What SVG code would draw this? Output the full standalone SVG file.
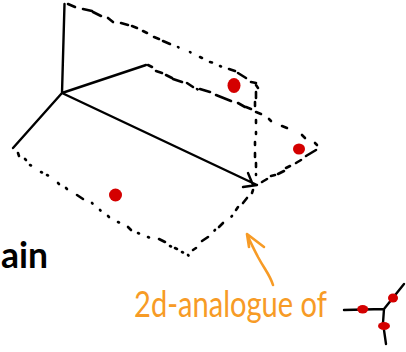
<svg xmlns="http://www.w3.org/2000/svg" width="406" height="352" viewBox="0 0 406 352">
<style>
.s{fill:none;stroke:#000;stroke-width:2.4;stroke-linecap:round;stroke-linejoin:round}
.d{fill:none;stroke:#000;stroke-width:2.6;stroke-linecap:round;stroke-linejoin:round}
.o{fill:none;stroke:#f79b26;stroke-width:2.600;stroke-linecap:round;stroke-linejoin:round}
.r{fill:#d40000}
.t{font-family:"Lato",sans-serif}
</style>
<rect width="406" height="352" fill="#fff"/>
<g id="connectors">
<path class="s" d="M64.500 4L62 93M62 93L146 65M62 93L13 148M62 93L257 185M248 173L253 185M243 187L257 185"/>
<path class="d" d="M68 4L75 7M83 9L92 11M93 12L101 16M108 18L113 22M121 23L128 25M132 26L137 28M143 31L147 33M154 37L159 39M163 41L170 44M178 47L178.500 47.300M190 52L190.500 52.300M200 57L202 58M210 62L212 62.500M220 66L221 66.500M229 69L235 71M238 73L246 78M251 82L256 83M256 85L258 88M256 92L256 98M255 102L255 106M256 120L256 123M256 132L256 134M255 142L255 145M255 153L255 157M256 163L256 167M256 174L256 175"/>
<path class="d" d="M148 65L152 67M156 71L162 73M166 75L172 78M173 79L182 82M187 83L193 87M197 89L197.500 89.300M200 89L210 92M216 95L231 101M238 103L245 107M246 107L251 109"/>
<path class="d" d="M256 112L261 114M269 119L271 121M282 126L287 128M302 135L305 138M315 143L317 145M316 150L306 156M301 160L296 163M290 166L286 168M284 171L278 174M275 175L271 176M267 179L262 182M253 190L252 193M247 198L243 203M238 207L236 210M232 216L231.500 216.500M223 223L219 227M215 230L214.500 230.500M208 237L202 241M196 248L193 250"/>
<path class="d" d="M18 153L19 156M25 159L26 160M30 165L31 165.500M41 172L42 172.500M47 175L48 175.500M58 183L59 184M66 188L67 189M77 195L83 199M92 203L92.500 203.500M100 210L100.500 210.500M108 216L109 217M118 222L119 222.500M128 227L131 230M138 233L139 233.500M148 237L149 237.500M159 239L165 242M170 246L171 246.500M175 248L177 249M182 252L183 252.500M188 255L188.500 255.500"/>
<path class="o" d="M273 285C270 275 265 270 258 257C254 249 250 242 247 234M247 234L249 247M247 234L264 247"/>
</g>
<g id="plane-dots">
<ellipse class="r" cx="234" cy="85.500" rx="6.500" ry="7.500"/>
<ellipse class="r" cx="299" cy="149" rx="6" ry="5.500"/>
<ellipse class="r" cx="115.500" cy="195" rx="6.500" ry="6.500"/>
</g>
<g id="junction">
<path class="s" d="M344 310L384 309M384 309L404 284M384 309L383 323M384 330L386 344"/>
<ellipse class="r" cx="362.700" cy="309.300" rx="5.500" ry="4.200"/>
<ellipse class="r" cx="393" cy="298" rx="5" ry="4.500"/>
<ellipse class="r" cx="384" cy="326" rx="6" ry="4"/>
</g>
<text class="t" x="1" y="268" font-size="36" font-weight="700" textLength="47" lengthAdjust="spacingAndGlyphs" fill="#000">ain</text>
<text class="t" x="134" y="317" font-size="36" textLength="193" lengthAdjust="spacingAndGlyphs" fill="#f79b26">2d-analogue of</text>
</svg>
